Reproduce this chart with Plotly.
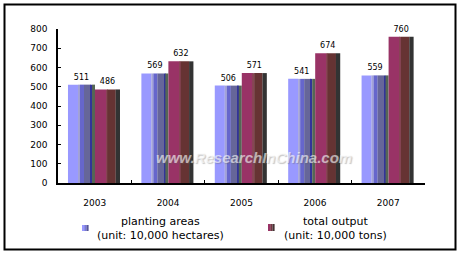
import plotly.graph_objects as go

years = ["2003", "2004", "2005", "2006", "2007"]
planting_areas = [511, 569, 506, 541, 559]
total_output = [486, 632, 571, 674, 760]
y_ticks = [0, 100, 200, 300, 400, 500, 600, 700, 800]

W, H = 463, 259
ML, MR, MT, MB = 58, 38, 29, 76
PW, PH = W - ML - MR, H - MT - MB


def px(x):
    return (x - ML) / PW


def py(y):
    return (H - MB - y) / PH


# strip styles (offset, width in category units, colour) for a pseudo-3D look
blue_strips = [
    (-0.364, 0.137, "#9999FF"),
    (-0.228, 0.028, "#A3A3D6"),
    (-0.201, 0.056, "#6666CC"),
    (-0.146, 0.092, "#666699"),
    (-0.055, 0.018, "#333399"),
    (-0.037, 0.041, "#556655"),
]
red_strips = [
    (0.004, 0.150, "#993366"),
    (0.154, 0.018, "#884455"),
    (0.172, 0.115, "#663333"),
    (0.286, 0.059, "#333333"),
]

fig = go.Figure()
for vals, strips in ((planting_areas, blue_strips), (total_output, red_strips)):
    for off, wid, col in strips:
        fig.add_trace(go.Bar(
            x=years, y=vals, offset=off, width=wid,
            marker=dict(color=col, line=dict(width=0), opacity=1),
            hoverinfo="skip", showlegend=False,
        ))
    fig.add_trace(go.Bar(
        x=years, y=vals, offset=strips[0][0],
        width=strips[-1][0] + strips[-1][1] - strips[0][0],
        marker=dict(color="rgba(0,0,0,0)", line=dict(width=0)),
        text=[str(v) for v in vals], textposition="outside",
        textfont=dict(family="DejaVu Sans", size=8, color="black"),
        constraintext="none", cliponaxis=False,
        hoverinfo="skip", showlegend=False,
    ))

shapes = [
    dict(type="rect", xref="paper", yref="paper",
         x0=px(4.5), x1=px(455.5), y0=py(4.5), y1=py(249.5),
         line=dict(color="black", width=2), fillcolor="rgba(0,0,0,0)", layer="below"),
]
# legend swatches
for x0, cols, y0, y1 in ((82, ["#9999FF", "#7777DD", "#555599"], 225, 231),
                         (268, ["#993366", "#773344", "#443333"], 224, 231)):
    for i, c in enumerate(cols):
        shapes.append(dict(type="rect", xref="paper", yref="paper",
                           x0=px(x0 + i * 2.2), x1=px(x0 + (i + 1) * 2.2),
                           y0=py(y1), y1=py(y0), line=dict(width=0), fillcolor=c))

lf = dict(family="DejaVu Sans", size=11, color="black")
annotations = [
    dict(text="planting areas<br>(unit: 10,000 hectares)", x=px(160), y=py(228.5),
         xref="paper", yref="paper", showarrow=False, font=lf, align="center",
         xanchor="center", yanchor="middle"),
    dict(text="total output<br>(unit: 10,000 tons)", x=px(335), y=py(228.5),
         xref="paper", yref="paper", showarrow=False, font=lf, align="center",
         xanchor="center", yanchor="middle"),
    dict(text="<b><i>www.ResearchInChina.com</i></b>", x=px(254), y=py(157),
         xref="paper", yref="paper", showarrow=False, xanchor="center", yanchor="middle",
         font=dict(family="Liberation Sans", size=15, color="rgba(255,255,255,0.6)",
                   shadow="1px 1px 1px rgba(100,100,100,0.6)")),
]

fig.update_layout(
    width=W, height=H, margin=dict(l=ML, r=MR, t=MT, b=MB, pad=0),
    paper_bgcolor="white", plot_bgcolor="white",
    barmode="overlay", showlegend=False,
    shapes=shapes, annotations=annotations,
    font=dict(family="DejaVu Sans", size=9, color="black"),
    xaxis=dict(type="category", range=[-0.5, 4.5], showgrid=False,
               showline=True, linecolor="black", linewidth=1.5,
               ticks="inside", ticklen=3, tickcolor="black", tickson="boundaries",
               tickfont=dict(size=9), ticklabelstandoff=10, fixedrange=True),
    yaxis=dict(range=[0, 800], tickvals=y_ticks, showgrid=False, zeroline=False,
               showline=True, linecolor="black", linewidth=1.5,
               ticks="inside", ticklen=3, tickcolor="black",
               tickfont=dict(size=9), ticklabelstandoff=7, fixedrange=True),
)

fig.write_html("out.html")
